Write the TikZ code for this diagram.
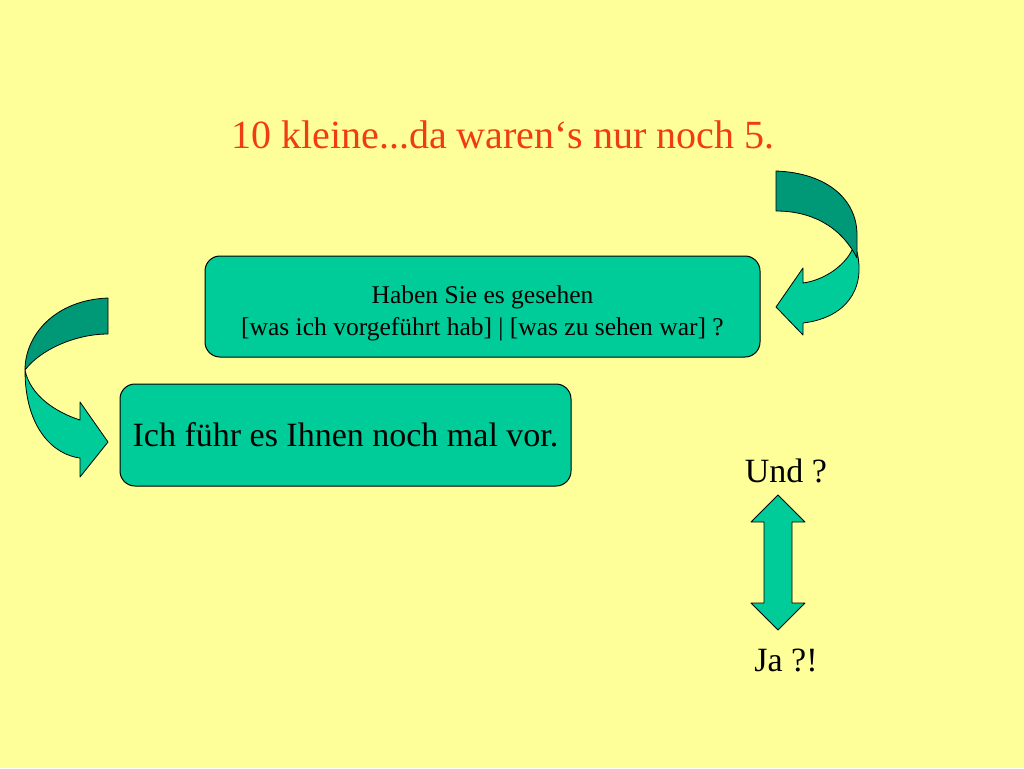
\documentclass[tikz,border=0pt]{standalone}
\usepackage{fontspec}
\setmainfont{Liberation Serif}
\definecolor{bg}{RGB}{255,255,153}
\definecolor{boxg}{RGB}{0,204,153}
\definecolor{darkg}{RGB}{0,153,119}
\definecolor{titlec}{RGB}{240,60,20}
\begin{document}
\begin{tikzpicture}[x=1pt,y=-1pt,
  tbox/.style={draw=black,line width=1pt,fill=boxg,rounded corners=15pt,align=center,inner sep=0pt},
  arrowlight/.style={draw=black,line width=0.8pt,fill=boxg,line join=round},
  arrowdark/.style={draw=black,line width=0.8pt,fill=darkg,line join=round},
  lbl/.style={inner sep=0pt,font=\fontsize{34}{38}\selectfont}]
\fill[bg] (0,0) rectangle (1024,768);
\useasboundingbox (0,0) rectangle (1024,768);
% title
\node[inner sep=0pt,text=titlec,font=\fontsize{40}{44}\selectfont] (title) at (503,135) {10 kleine...da waren‘s nur noch 5.};
% boxes
\node[tbox,minimum width=555pt,minimum height=101pt] (q) at (482.5,306.5) {};
\node[inner sep=0pt,align=center,font=\fontsize{25.5}{32}\selectfont] (qt) at (482.5,313) {Haben Sie es gesehen\\{}[was ich vorgeführt hab] | [was zu sehen war] ?};
\node[tbox,minimum width=451pt,minimum height=102pt,font=\fontsize{34}{38}\selectfont] (a) at (345.5,435) {Ich führ es Ihnen noch mal vor.};
% right curved arrow
\path[arrowlight] (852,250) .. controls (845,265) and (825,280) .. (803,283) -- (803,268) -- (776,307) -- (803,335) -- (803,323) .. controls (845,318) and (866,290) .. (857,252) -- cycle;
\path[arrowdark] (776,171) .. controls (828,173) and (857,200) .. (857,235) -- (857,258) .. controls (840,225) and (810,211) .. (776,211) -- cycle;
% left curved arrow
\path[arrowlight] (25,370) .. controls (25,430) and (55,455) .. (80,458) -- (80,477) -- (108,442) -- (80,402) -- (80,420) .. controls (55,412) and (30,395) .. (25,370) -- cycle;
\path[arrowdark] (108,298) .. controls (55,300) and (25,335) .. (25,370) .. controls (40,350) and (75,334) .. (108,334) -- cycle;
% double arrow
\node[lbl] (und) at (786,471) {Und ?};
\node[lbl] (ja) at (786,660) {Ja ?!};
\path[arrowlight] (778,495) -- (805,522) -- (792,522) -- (792,603) -- (805,603) -- (778,630) -- (751,603) -- (764,603) -- (764,522) -- (751,522) -- cycle;
\end{tikzpicture}
\end{document}
